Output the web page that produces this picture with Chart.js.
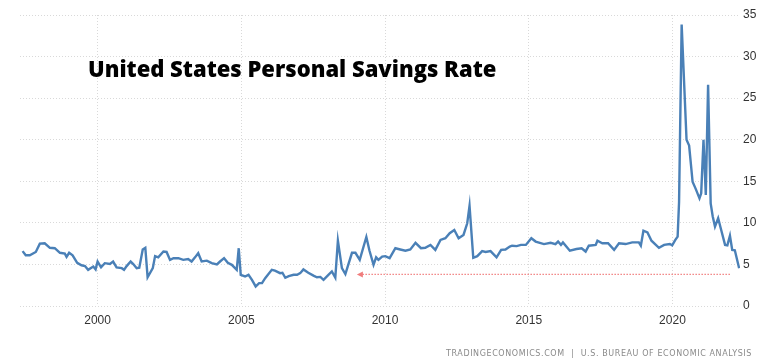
<!DOCTYPE html>
<html>
<head>
<meta charset="utf-8">
<script src="https://cdn.jsdelivr.net/npm/chart.js@4.4.1/dist/chart.umd.min.js"></script>
<style>
  html, body { margin: 0; padding: 0; background: #fff; }
  #wrap { width: 773px; height: 363px; }
</style>
</head>
<body>
<div id="wrap"><canvas id="savingsChart"></canvas></div>
<script>
// decimal year of each reading and the savings rate (%)
const years = [
  1997.39, 1997.50, 1997.64, 1997.85, 1997.99, 1998.16, 1998.34, 1998.51, 1998.69, 1998.86,
  1998.92, 1999.01, 1999.13, 1999.29, 1999.44, 1999.56, 1999.67, 1999.85, 1999.93, 2000.00,
  2000.12, 2000.25, 2000.43, 2000.54, 2000.66, 2000.84, 2000.92, 2001.01, 2001.15, 2001.24,
  2001.36, 2001.45, 2001.57, 2001.66, 2001.74, 2001.92, 2002.00, 2002.11, 2002.29, 2002.40,
  2002.52, 2002.64, 2002.81, 2002.98, 2003.15, 2003.27, 2003.39, 2003.50, 2003.62, 2003.80,
  2003.97, 2004.15, 2004.26, 2004.40, 2004.53, 2004.67, 2004.84, 2004.91, 2004.98, 2005.13,
  2005.25, 2005.37, 2005.50, 2005.62, 2005.72, 2005.83, 2006.06, 2006.17, 2006.35, 2006.43,
  2006.53, 2006.65, 2006.82, 2006.94, 2007.05, 2007.16, 2007.33, 2007.51, 2007.63, 2007.75,
  2007.86, 2008.03, 2008.15, 2008.27, 2008.36, 2008.50, 2008.62, 2008.85, 2008.97, 2009.12,
  2009.35, 2009.46, 2009.60, 2009.69, 2009.77, 2009.90, 2010.01, 2010.16, 2010.36, 2010.53,
  2010.71, 2010.88, 2011.06, 2011.25, 2011.40, 2011.58, 2011.75, 2011.93, 2012.10, 2012.25,
  2012.41, 2012.56, 2012.73, 2012.86, 2012.94, 2013.07, 2013.21, 2013.38, 2013.50, 2013.67,
  2013.88, 2014.04, 2014.19, 2014.34, 2014.42, 2014.58, 2014.73, 2014.90, 2015.09, 2015.24,
  2015.53, 2015.76, 2015.93, 2016.02, 2016.12, 2016.19, 2016.43, 2016.66, 2016.84, 2016.98,
  2017.09, 2017.33, 2017.39, 2017.56, 2017.76, 2017.97, 2018.14, 2018.37, 2018.60, 2018.83,
  2018.90, 2018.99, 2019.13, 2019.27, 2019.53, 2019.71, 2019.91, 2019.99, 2020.10, 2020.18,
  2020.23, 2020.32, 2020.49, 2020.58, 2020.70, 2020.82, 2020.94, 2021.00, 2021.08, 2021.16,
  2021.24, 2021.33, 2021.40, 2021.48, 2021.59, 2021.68, 2021.83, 2021.91, 2022.00, 2022.08,
  2022.17, 2022.32
];
const savingsRate = [
  6.6, 6.1, 6.1, 6.5, 7.5, 7.55, 7.0, 6.95, 6.4, 6.3,
  5.9, 6.4, 6.1, 5.2, 4.9, 4.8, 4.35, 4.75, 4.4, 5.35,
  4.65, 5.15, 5.05, 5.35, 4.65, 4.55, 4.35, 4.8, 5.35, 5.05,
  4.55, 4.6, 6.8, 7.0, 3.45, 4.55, 6.0, 5.85, 6.55, 6.5,
  5.55, 5.75, 5.75, 5.55, 5.65, 5.35, 5.85, 6.35, 5.35, 5.45,
  5.15, 5.0, 5.35, 5.75, 5.2, 4.95, 4.35, 6.95, 3.75, 3.55,
  3.75, 3.15, 2.35, 2.75, 2.75, 3.35, 4.35, 4.25, 3.95, 4.0,
  3.4, 3.6, 3.75, 3.75, 3.95, 4.4, 4.0, 3.65, 3.45, 3.5,
  3.15, 3.75, 4.15, 3.4, 7.85, 4.55, 3.85, 6.4, 6.4, 5.55,
  8.3, 6.65, 4.95, 5.85, 5.55, 5.95, 6.0, 5.75, 6.95, 6.8,
  6.65, 6.8, 7.6, 6.95, 7.0, 7.35, 6.75, 7.95, 8.15, 8.75,
  9.15, 8.15, 8.55, 9.95, 12.05, 5.8, 6.0, 6.6, 6.5, 6.6,
  5.85, 6.75, 6.8, 7.15, 7.25, 7.2, 7.35, 7.35, 8.15, 7.75,
  7.45, 7.6, 7.45, 7.75, 7.35, 7.65, 6.65, 6.85, 6.95, 6.55,
  7.25, 7.35, 7.85, 7.55, 7.55, 6.75, 7.55, 7.45, 7.65, 7.65,
  7.25, 9.05, 8.85, 7.85, 7.0, 7.35, 7.45, 7.3, 7.95, 8.35,
  12.5, 33.85, 20.0, 19.3, 14.95, 14.0, 12.95, 13.55, 20.0, 13.35,
  26.6, 12.35, 10.8, 9.55, 10.55, 9.35, 7.35, 7.3, 8.45, 6.75,
  6.7, 4.55
];

const yTicks = [0, 5, 10, 15, 20, 25, 30, 35];
const xTickYears = [2000, 2005, 2010, 2015, 2020];

// red dotted arrow annotation (data units)
const arrowFrom = 2022.0;
const arrowTo = 2009.02;
const arrowLevel = 3.8;

const titleText = "United States Personal Savings Rate";
const sourceText = "TRADINGECONOMICS.COM  |  U.S. BUREAU OF ECONOMIC ANALYSIS";

const overlay = {
  id: "overlay",
  afterDatasetsDraw(chart) {
    const { ctx, scales: { x, y } } = chart;
    const x1 = x.getPixelForValue(arrowFrom);
    const x2 = x.getPixelForValue(arrowTo);
    const yy = y.getPixelForValue(arrowLevel);
    ctx.save();
    ctx.strokeStyle = "rgba(238, 110, 110, 0.85)";
    ctx.fillStyle = "rgba(238, 110, 110, 0.9)";
    ctx.lineWidth = 1.3;
    ctx.setLineDash([1.5, 1.5]);
    ctx.beginPath();
    ctx.moveTo(x1, yy);
    ctx.lineTo(x2 + 5, yy);
    ctx.stroke();
    ctx.setLineDash([]);
    ctx.beginPath();
    ctx.moveTo(x2, yy);
    ctx.lineTo(x2 + 6, yy - 3);
    ctx.lineTo(x2 + 6, yy + 3);
    ctx.closePath();
    ctx.fill();
    ctx.restore();
  },
  afterDraw(chart) {
    const { ctx } = chart;
    ctx.save();
    ctx.fillStyle = "#000";
    ctx.font = "800 22px 'Open Sans'";
    ctx.textBaseline = "alphabetic";
    ctx.fillText(titleText, 88, 77);

    ctx.fillStyle = "#8a8a8a";
    ctx.font = "8px 'DejaVu Sans'";
    ctx.letterSpacing = "0.6px";
    ctx.textAlign = "right";
    ctx.fillText(sourceText, 752, 356);
    ctx.restore();
  }
};

const ctx = document.getElementById("savingsChart").getContext("2d");
new Chart(ctx, {
  type: "line",
  data: {
    datasets: [{
      label: "Personal Savings Rate",
      data: years.map((yr, i) => ({ x: yr, y: savingsRate[i] })),
      borderColor: "#4a80b7",
      borderWidth: 2.4,
      pointRadius: 0,
      tension: 0,
      fill: false
    }]
  },
  options: {
    responsive: true,
    maintainAspectRatio: false,
    animation: false,
    layout: { padding: { left: 20, right: 0, top: 15, bottom: 0 } },
    plugins: {
      legend: { display: false },
      tooltip: { enabled: false }
    },
    scales: {
      x: {
        type: "linear",
        min: 1997.3,
        max: 2022.35,
        afterFit(scale) { scale.height = 57; },
        afterBuildTicks(scale) { scale.ticks = xTickYears.map(v => ({ value: v })); },
        grid: { color: "#d9d9d9", drawTicks: false },
        border: { display: false, dash: [1, 2] },
        ticks: {
          padding: 7,
          color: "#333",
          font: { family: "'Liberation Sans'", size: 12 },
          callback: v => String(v)
        }
      },
      y: {
        position: "right",
        min: 0,
        max: 35,
        afterFit(scale) { scale.width = 33; },
        afterBuildTicks(scale) { scale.ticks = yTicks.map(v => ({ value: v })); },
        grid: { color: "#d9d9d9", drawTicks: false },
        border: { display: false, dash: [1, 2] },
        ticks: {
          padding: 3,
          color: "#333",
          font: { family: "'Liberation Sans'", size: 12 }
        }
      }
    }
  },
  plugins: [overlay]
});
</script>
</body>
</html>
